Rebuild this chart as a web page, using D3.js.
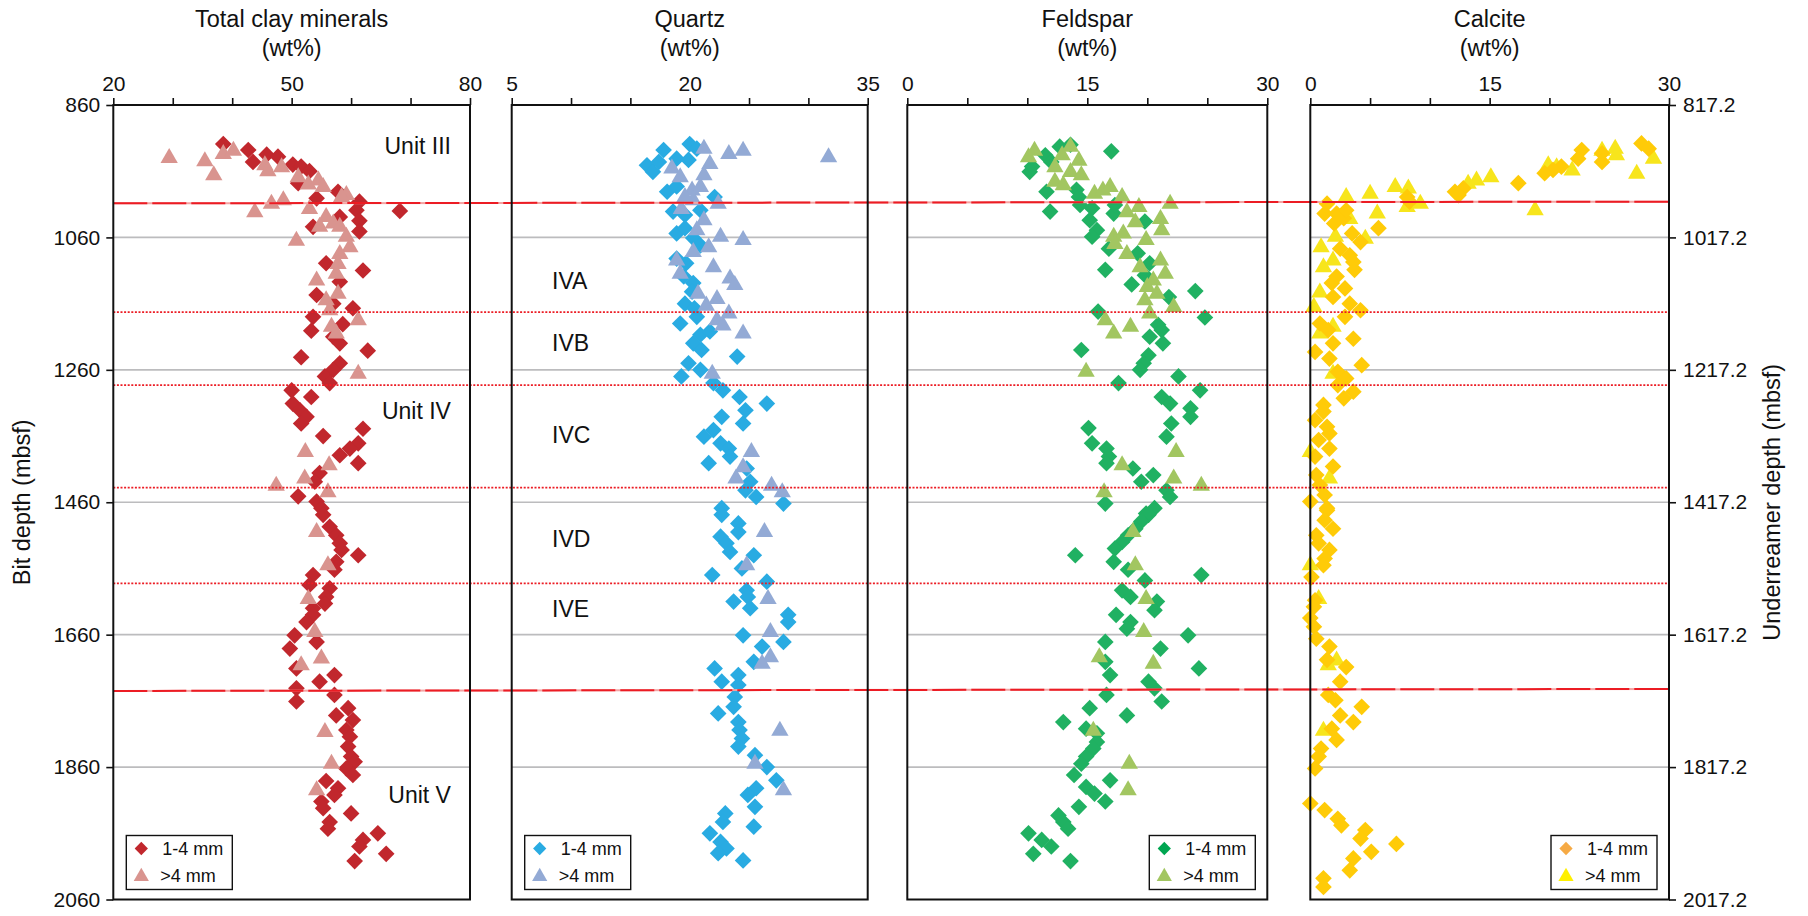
<!DOCTYPE html>
<html>
<head>
<meta charset="utf-8">
<script src="https://cdn.jsdelivr.net/npm/d3@7"></script>
<style>
  body { margin: 0; background: #fff; }
  svg { display: block; }
  text { font-family: "Liberation Sans", Arial, Helvetica, sans-serif; fill: #111; }
</style>
</head>
<body>
<svg id="chart" width="1808" height="916"></svg>
<script>
// ---- Depth axes ----
const bitDepthTicks = [860, 1060, 1260, 1460, 1660, 1860, 2060];
const underreamerTicks = [817.2, 1017.2, 1217.2, 1417.2, 1617.2, 1817.2, 2017.2];

// Unit boundaries (bit depth at left and right ends of the line) and subunit boundaries
const unitBoundaries = [[1008.5, 1006], [1745, 1742]];
const subunitBoundaries = [1172.7, 1283, 1438, 1582.5];
const unitNames = ["Unit III", "Unit IV", "Unit V"];
const unitNameDepths = [934, 1334, 1914];
const subunitNames = ["IVA", "IVB", "IVC", "IVD", "IVE"];
const subunitNameDepths = [1138, 1232, 1371, 1527, 1634];

// ---- Mineral contents [bit depth (mbsf), wt%] ----
const clayFine = [[919,38.5],[928,42.7],[946,43.5],[935,45.8],[938,47.7],[950,50.2],[953,51.6],[960,53.0],[978,51.1],[1001,54.2],[991,57.8],[1006,61.4],[1019,60.9],[1020,68.2],[1044,53.6],[1029,58.1],[1035,61.4],[1051,61.4],[1099,55.8],[1110,62.0],[1127,58.1],[1147,54.2],[1160,57.0],[1167,60.3],[1180,53.6],[1191,58.6],[1201,53.3],[1210,57.0],[1220,58.1],[1231,62.8],[1241,51.6],[1250,58.1],[1260,57.0],[1270,55.6],[1280,56.4],[1291,50.0],[1301,53.3],[1311,50.2],[1321,51.4],[1331,52.5],[1341,51.6],[1360,55.3],[1349,62.0],[1371,61.2],[1379,59.8],[1389,58.1],[1401,61.2],[1416,54.7],[1429,53.9],[1451,51.1],[1459,54.2],[1469,55.0],[1479,55.3],[1497,56.4],[1510,57.5],[1522,58.1],[1532,58.4],[1540,61.2],[1550,57.5],[1562,57.2],[1570,53.6],[1585,53.0],[1590,56.4],[1603,55.8],[1613,55.6],[1620,53.6],[1630,53.6],[1641,52.5],[1661,50.5],[1681,49.7],[1671,54.2],[1711,50.8],[1731,54.7],[1721,57.2],[1741,50.8],[1761,50.8],[1751,57.2],[1782,57.5],[1771,59.5],[1789,60.3],[1804,59.2],[1814,59.8],[1829,59.5],[1844,60.0],[1852,60.6],[1862,59.2],[1872,60.3],[1881,55.8],[1892,57.8],[1902,57.2],[1912,55.0],[1922,55.3],[1930,60.0],[1943,56.4],[1953,56.1],[1960,64.5],[1970,62.0],[1980,61.4],[1991,65.9],[2002,60.6]];
const clayCoarse = [[937,29.4],[942,35.4],[963,36.9],[931,38.5],[926,40.2],[948,45.5],[957,46.0],[951,48.3],[966,51.1],[977,52.8],[971,54.5],[981,55.3],[993,59.2],[996,58.4],[1001,48.6],[1006,46.6],[1019,43.8],[1014,53.0],[1026,55.8],[1036,57.0],[1041,54.7],[1041,58.1],[1056,59.2],[1072,59.8],[1062,50.8],[1082,58.1],[1097,57.8],[1112,57.5],[1122,54.2],[1142,57.8],[1152,55.8],[1167,56.4],[1182,61.2],[1192,56.7],[1202,57.5],[1263,61.2],[1381,52.3],[1401,56.3],[1432,47.4],[1421,52.2],[1442,56.1],[1502,54.2],[1552,56.1],[1603,52.8],[1653,53.9],[1703,51.6],[1693,55.0],[1804,55.6],[1852,56.7],[1892,54.2]];

const quartzFine = [[951,16.4],[961,16.9],[928,17.8],[946,17.4],[941,18.9],[943,19.9],[919,20.0],[926,20.6],[991,18.1],[983,18.9],[1021,18.6],[1026,19.6],[1019,20.9],[999,22.1],[1054,18.9],[1046,19.6],[1061,20.3],[1072,20.9],[1092,18.9],[1099,19.7],[1119,19.5],[1129,20.3],[1142,20.2],[1160,19.6],[1167,20.4],[1180,20.6],[1190,19.2],[1207,20.9],[1202,21.7],[1220,20.3],[1230,21.0],[1240,24.0],[1250,19.9],[1260,20.9],[1270,19.3],[1280,22.0],[1291,22.8],[1301,24.2],[1311,26.5],[1321,24.7],[1331,22.7],[1341,24.5],[1351,22.0],[1361,21.2],[1371,22.6],[1379,23.3],[1391,23.4],[1401,21.6],[1409,24.8],[1429,25.1],[1442,24.7],[1452,25.6],[1462,27.9],[1469,22.7],[1479,22.7],[1492,24.1],[1505,24.1],[1512,22.6],[1522,23.1],[1535,23.4],[1540,25.4],[1560,24.4],[1570,21.9],[1580,26.5],[1593,24.8],[1603,24.9],[1610,23.7],[1620,25.1],[1630,28.3],[1641,28.3],[1661,24.5],[1671,27.9],[1678,26.1],[1701,25.4],[1711,22.1],[1731,22.7],[1721,24.1],[1736,24.1],[1754,23.8],[1769,23.7],[1779,22.4],[1792,24.1],[1804,24.2],[1817,24.4],[1829,24.1],[1842,25.5],[1860,26.5],[1880,27.3],[1892,25.6],[1902,24.9],[1920,25.5],[1930,23.0],[1943,22.8],[1950,25.4],[1960,21.7],[1973,22.6],[1983,23.1],[1990,22.4],[2001,24.5]];
const quartzCoarse = [[923,21.2],[931,23.3],[926,24.5],[936,31.7],[946,21.7],[953,18.5],[966,19.2],[963,21.2],[986,20.2],[981,20.9],[1001,20.3],[1014,19.3],[996,19.6],[1006,22.4],[1031,21.2],[1046,20.6],[1056,22.6],[1061,24.5],[1072,21.6],[1079,20.3],[1092,18.9],[1102,22.0],[1112,19.2],[1119,23.4],[1129,23.8],[1142,20.7],[1150,22.3],[1160,21.4],[1172,23.3],[1182,22.3],[1190,22.8],[1202,24.5],[1263,21.9],[1381,25.2],[1404,24.5],[1421,23.9],[1432,26.9],[1442,27.8],[1502,26.3],[1552,24.8],[1603,26.6],[1653,26.8],[1691,26.8],[1701,26.1],[1802,27.6],[1852,25.5],[1892,27.9]];

const feldsparFine = [[936,11.5],[946,12.0],[923,12.7],[920,13.6],[961,10.2],[953,10.4],[930,17.0],[991,11.6],[988,14.1],[999,14.3],[1011,14.4],[1021,11.9],[1016,15.4],[1024,17.2],[1034,15.2],[1011,17.3],[1049,15.8],[1059,15.4],[1077,16.8],[1036,19.8],[1084,19.2],[1109,16.5],[1099,20.2],[1117,19.8],[1131,18.7],[1141,24.0],[1150,21.8],[1181,24.8],[1172,15.9],[1192,20.9],[1200,21.2],[1210,20.2],[1220,21.3],[1230,14.5],[1238,20.1],[1250,19.7],[1260,19.4],[1270,22.6],[1280,17.6],[1291,24.4],[1301,21.2],[1311,21.9],[1318,23.6],[1331,23.6],[1341,22.0],[1361,21.6],[1348,15.1],[1371,15.4],[1379,16.6],[1391,16.8],[1401,16.6],[1409,18.8],[1429,19.5],[1419,20.5],[1442,21.6],[1452,21.9],[1462,16.5],[1469,20.6],[1477,19.9],[1479,20.1],[1489,19.5],[1500,19.0],[1510,18.4],[1520,17.9],[1530,17.3],[1540,14.0],[1550,17.2],[1562,18.4],[1578,19.8],[1570,24.5],[1593,17.9],[1603,18.6],[1610,20.8],[1623,20.6],[1630,17.4],[1641,18.6],[1651,18.3],[1671,16.5],[1661,23.4],[1681,21.1],[1701,16.5],[1711,24.3],[1721,16.9],[1731,20.1],[1741,20.6],[1751,16.6],[1761,21.2],[1771,15.2],[1782,18.3],[1792,13.0],[1802,14.9],[1809,15.8],[1822,15.8],[1832,15.5],[1844,14.9],[1855,14.5],[1872,13.9],[1880,16.9],[1890,14.9],[1900,15.6],[1912,16.5],[1920,14.3],[1933,12.6],[1943,13.0],[1953,13.4],[1960,10.1],[1970,11.2],[1980,12.0],[1991,10.5],[2002,13.6]];
const feldsparCoarse = [[936,10.1],[926,10.6],[951,12.3],[933,12.9],[920,13.6],[941,14.3],[958,13.6],[963,14.5],[973,12.3],[978,13.0],[991,15.6],[986,16.3],[981,16.9],[996,17.9],[1019,18.3],[1011,19.3],[1034,19.0],[1006,21.9],[1029,21.1],[1046,21.2],[1056,17.2],[1051,18.0],[1067,17.3],[1061,19.9],[1082,18.3],[1102,19.4],[1092,21.1],[1112,21.5],[1122,20.5],[1132,20.0],[1142,20.8],[1152,19.8],[1162,22.2],[1172,20.2],[1182,16.5],[1192,18.6],[1202,17.2],[1260,14.9],[1381,22.4],[1401,17.9],[1421,22.2],[1432,24.5],[1442,16.4],[1502,18.8],[1552,19.0],[1603,19.9],[1653,19.7],[1691,16.0],[1701,20.5],[1802,15.5],[1852,18.5],[1892,18.4]];

const calciteFine = [[918,27.7],[926,28.3],[928,22.7],[941,22.4],[933,24.4],[946,24.4],[953,21.0],[958,20.3],[963,19.6],[978,17.4],[986,12.8],[991,12.1],[996,12.4],[999,8.1],[1006,8.3],[1009,1.4],[1024,1.2],[1024,2.2],[1031,2.8],[1039,2.0],[1019,3.0],[1046,5.7],[1054,3.5],[1067,4.2],[1077,2.5],[1087,3.3],[1097,3.6],[1109,3.7],[1119,2.2],[1129,1.8],[1137,2.9],[1150,1.9],[1160,3.3],[1170,4.2],[1180,2.9],[1190,0.8],[1200,1.5],[1213,3.6],[1220,1.9],[1233,0.4],[1243,1.6],[1253,4.3],[1263,2.3],[1273,3.0],[1283,2.3],[1293,3.6],[1303,2.8],[1313,1.1],[1323,1.1],[1336,0.4],[1346,1.4],[1356,1.6],[1366,0.7],[1379,1.6],[1391,0.4],[1406,1.9],[1419,0.5],[1434,0.8],[1459,0.0],[1449,1.2],[1469,1.4],[1472,1.4],[1487,1.2],[1500,1.9],[1510,0.5],[1522,0.7],[1532,1.6],[1545,1.2],[1555,1.1],[1573,0.1],[1608,0.4],[1618,0.3],[1635,0.0],[1648,0.3],[1666,0.5],[1678,1.6],[1698,1.4],[1709,3.0],[1731,2.5],[1751,1.5],[1759,2.1],[1769,4.3],[1782,2.5],[1792,3.6],[1802,1.8],[1819,2.2],[1832,0.9],[1844,0.7],[1862,0.4],[1915,0.0],[1925,1.2],[1938,2.3],[1948,2.6],[1955,4.6],[1968,4.2],[1976,7.2],[1988,5.1],[1998,3.6],[2016,3.3],[2028,1.1],[2041,1.1]];
const calciteCoarse = [[996,3.0],[991,5.0],[1021,5.6],[981,7.1],[983,8.2],[1011,8.1],[1006,9.2],[976,13.2],[971,13.9],[966,15.1],[1016,18.8],[948,19.9],[951,20.6],[956,21.9],[926,24.4],[923,25.5],[933,25.6],[961,27.3],[938,28.7],[1029,3.3],[1056,2.1],[1059,4.6],[1072,0.9],[1092,1.9],[1102,1.1],[1140,0.8],[1162,0.3],[1192,1.9],[1202,0.8],[1263,1.9],[1381,0.0],[1421,1.6],[1552,0.0],[1603,0.7],[1696,2.2],[1703,1.5],[1802,1.1]];

// ---- Panel definitions ----
const panelTitles = ["Total clay minerals", "Quartz", "Feldspar", "Calcite"];
const panelDomains = [[20, 80], [5, 35], [0, 30], [0, 30]];
const panelTickSteps = [10, 5, 5, 5];
const panelTickLabels = [[20, 50, 80], [5, 20, 35], [0, 15, 30], [0, 15, 30]];
const sizeClasses = ["1-4 mm", ">4 mm"];

// ---- Layout & style ----
const svg = d3.select("#chart");
const panelX = [[113.3, 470], [511.7, 867.7], [907.3, 1267.3], [1310.3, 1669]];
const plotTop = 105, plotBottom = 899.5;
const FONT = '"Liberation Sans", Arial, Helvetica, sans-serif';

const styles = [
  { fine: "#c1272d", coarse: "#d9948f", legendFine: "#c1272d", legendCoarse: "#d9948f", coarseOnTop: true, legendRight: false },
  { fine: "#29abe2", coarse: "#93aad5", legendFine: "#29abe2", legendCoarse: "#93aad5", coarseOnTop: true, legendRight: false },
  { fine: "#20b162", coarse: "#a2c661", legendFine: "#00a651", legendCoarse: "#a2c661", coarseOnTop: true, legendRight: true },
  { fine: "#ffcb08", coarse: "#f7e51c", legendFine: "#f6aa45", legendCoarse: "#fff000", coarseOnTop: false, legendRight: true }
];
const series = [[clayFine, clayCoarse], [quartzFine, quartzCoarse], [feldsparFine, feldsparCoarse], [calciteFine, calciteCoarse]];

const y = d3.scaleLinear().domain([860, 2060]).range([plotTop, plotBottom]);
const yRight = d3.scaleLinear().domain([817.2, 2017.2]).range([plotTop, plotBottom]);

const diamond = d3.symbol().type(d3.symbolSquare).size(139)();
const triangle = d3.symbol().type(d3.symbolTriangle).size(130)();
const legendDiamond = d3.symbol().type(d3.symbolSquare).size(88)();
const legendTriangle = d3.symbol().type(d3.symbolTriangle).size(100)();

const xScales = panelX.map((r, i) => d3.scaleLinear().domain(panelDomains[i]).range(r));

// grid lines
panelX.forEach((r, i) => {
  svg.append("g").selectAll("line")
    .data(bitDepthTicks.slice(1, -1)).join("line")
    .attr("x1", r[0]).attr("x2", r[1])
    .attr("y1", d => y(d)).attr("y2", d => y(d))
    .attr("stroke", "#bcbcbe").attr("stroke-width", 1.6);
});

// data markers
series.forEach((pair, i) => {
  const x = xScales[i], st = styles[i];
  const g = svg.append("g");
  const drawFine = () => g.append("g").selectAll("path").data(pair[0]).join("path")
    .attr("d", diamond)
    .attr("transform", d => `translate(${x(d[1])},${y(d[0])}) rotate(45)`)
    .attr("fill", st.fine);
  const drawCoarse = () => g.append("g").selectAll("path").data(pair[1]).join("path")
    .attr("d", triangle)
    .attr("transform", d => `translate(${x(d[1])},${y(d[0]) + 2})`)
    .attr("fill", st.coarse);
  if (st.coarseOnTop) { drawFine(); drawCoarse(); } else { drawCoarse(); drawFine(); }
});

// unit boundaries (long dashes) and subunit boundaries (dotted)
const xLeft = panelX[0][0], xRight = panelX[3][1];
svg.append("g").selectAll("line").data(unitBoundaries).join("line")
  .attr("x1", xLeft).attr("x2", xRight)
  .attr("y1", d => y(d[0])).attr("y2", d => y(d[1]))
  .attr("stroke", "#f4a3a3").attr("stroke-width", 2);
svg.append("g").selectAll("line").data(unitBoundaries).join("line")
  .attr("x1", xLeft).attr("x2", xRight)
  .attr("y1", d => y(d[0])).attr("y2", d => y(d[1]))
  .attr("stroke", "#ec1c24").attr("stroke-width", 2).attr("stroke-dasharray", "34,5");
svg.append("g").selectAll("line").data(subunitBoundaries).join("line")
  .attr("x1", xLeft).attr("x2", xRight)
  .attr("y1", d => y(d)).attr("y2", d => y(d))
  .attr("stroke", "#ec1c24").attr("stroke-width", 1.7).attr("stroke-dasharray", "2,1.6");

// frames, top axes, titles
panelX.forEach((r, i) => {
  const x = xScales[i];
  const [d0, d1] = panelDomains[i];
  const ticks = d3.range(d0, d1 + 0.001, panelTickSteps[i]);
  const ax = svg.append("g").attr("transform", `translate(0,${plotTop})`)
    .call(d3.axisTop(x).tickValues(ticks).tickSize(7).tickPadding(7)
      .tickFormat(d => panelTickLabels[i].includes(d) ? d : ""));
  ax.select(".domain").remove();
  ax.selectAll("line").attr("stroke", "#111").attr("stroke-width", 1.6);
  ax.selectAll("text").style("font-family", FONT).style("font-size", "21px").attr("fill", "#111");

  svg.append("rect")
    .attr("x", r[0]).attr("y", plotTop)
    .attr("width", r[1] - r[0]).attr("height", plotBottom - plotTop)
    .attr("fill", "none").attr("stroke", "#111").attr("stroke-width", 2);

  const cx = (r[0] + r[1]) / 2;
  svg.append("text").attr("x", cx).attr("y", 27).attr("text-anchor", "middle")
    .style("font-size", "23.5px").text(panelTitles[i]);
  svg.append("text").attr("x", cx).attr("y", 56).attr("text-anchor", "middle")
    .style("font-size", "23.5px").text("(wt%)");
});

// left depth axis
const la = svg.append("g").attr("transform", `translate(${xLeft},0)`)
  .call(d3.axisLeft(y).tickValues(bitDepthTicks).tickSize(7).tickPadding(6).tickFormat(d3.format("d")));
la.select(".domain").remove();
la.selectAll("line").attr("stroke", "#111").attr("stroke-width", 1.6);
la.selectAll("text").style("font-family", FONT).style("font-size", "21px").attr("fill", "#111");

// right depth axis
const ra = svg.append("g").attr("transform", `translate(${xRight},0)`)
  .call(d3.axisRight(yRight).tickValues(underreamerTicks).tickSize(7).tickPadding(7).tickFormat(d3.format(".1f")));
ra.select(".domain").remove();
ra.selectAll("line").attr("stroke", "#111").attr("stroke-width", 1.6);
ra.selectAll("text").style("font-family", FONT).style("font-size", "21px").attr("fill", "#111");

const midY = (plotTop + plotBottom) / 2;
svg.append("text").attr("transform", `translate(30,${midY}) rotate(-90)`)
  .attr("text-anchor", "middle").style("font-size", "23.5px").text("Bit depth (mbsf)");
svg.append("text").attr("transform", `translate(1780,${midY}) rotate(-90)`)
  .attr("text-anchor", "middle").style("font-size", "23.5px").text("Underreamer depth (mbsf)");

// unit labels in the clay panel, subunit labels in the quartz panel
svg.append("g").selectAll("text").data(unitNames).join("text")
  .attr("x", xScales[0](76.8)).attr("y", (d, i) => y(unitNameDepths[i]))
  .attr("text-anchor", "end").style("font-size", "23px").text(d => d);
svg.append("g").selectAll("text").data(subunitNames).join("text")
  .attr("x", xScales[1](8.4)).attr("y", (d, i) => y(subunitNameDepths[i]))
  .attr("text-anchor", "start").style("font-size", "23px").text(d => d);

// legends
panelX.forEach((r, i) => {
  const st = styles[i];
  const w = 106, h = 54;
  const lx = st.legendRight ? r[1] - 12 - w : r[0] + 13;
  const ly = plotBottom - 10 - h;
  const g = svg.append("g").attr("transform", `translate(${lx},${ly})`);
  g.append("rect").attr("width", w).attr("height", h)
    .attr("fill", "#fff").attr("stroke", "#111").attr("stroke-width", 1.4);
  g.append("path").attr("d", legendDiamond)
    .attr("transform", "translate(15,13) rotate(45)").attr("fill", st.legendFine);
  g.append("path").attr("d", legendTriangle)
    .attr("transform", "translate(15,41)").attr("fill", st.legendCoarse);
  g.append("text").attr("x", 36).attr("y", 19.5).style("font-size", "18px").text(sizeClasses[0]);
  g.append("text").attr("x", 34).attr("y", 46).style("font-size", "18px").text(sizeClasses[1]);
});
</script>
</body>
</html>
